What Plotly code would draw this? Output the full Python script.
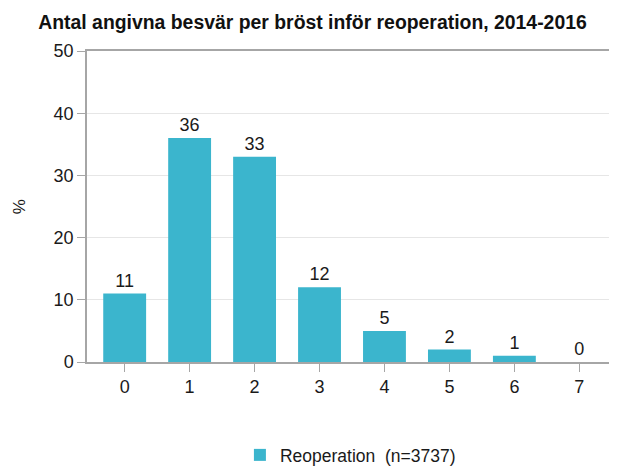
import plotly.graph_objects as go

# Antal besvär per bröst (kategorier) och andel i procent
antal_besvar = ['0', '1', '2', '3', '4', '5', '6', '7']
andel_procent = [11, 36, 33, 12, 5, 2, 1, 0]
serie_namn = 'Reoperation  (n=3737)'

fig = go.Figure()
fig.add_trace(go.Bar(
    x=antal_besvar,
    y=andel_procent,
    name=serie_namn,
    text=andel_procent,
    textposition='outside',
    cliponaxis=False,
    textfont=dict(size=18, color='#1a1a1a'),
    marker=dict(color='#3bb5cd', line=dict(width=0)),
    width=0.66,
    showlegend=True,
))

fig.update_layout(
    width=609, height=458,
    margin=dict(l=79, r=0, t=43, b=104),
    paper_bgcolor='white', plot_bgcolor='white',
    font=dict(family='Liberation Sans, Arial, sans-serif', size=18, color='#1a1a1a'),
    title=dict(text='<b>Antal angivna besvär per bröst inför reoperation, 2014-2016</b>',
               x=0.5, xanchor='center', y=0.969, yanchor='middle',
               font=dict(size=19.4, color='#111')),
    legend=dict(orientation='h', x=0.497, xanchor='center',
                yref='container', y=0.024, yanchor='middle', itemwidth=30,
                font=dict(size=17.5, color='#1a1a1a')),
    annotations=[dict(text='%', xref='paper', yref='paper', x=-0.127, y=0.5,
                      xanchor='center', yanchor='middle',
                      textangle=-90, showarrow=False, font=dict(size=17))],
)

fig.update_xaxes(
    type='category', range=[-0.58, 7.58],
    showline=True, linecolor='#a6a6a6', linewidth=1.5, mirror=True,
    ticks='outside', ticklen=8, tickcolor='#a6a6a6', showgrid=False,
    automargin=False,
)
fig.update_yaxes(
    range=[0, 50], dtick=10,
    showline=True, linecolor='#a6a6a6', linewidth=1.5,
    ticks='outside', ticklen=8, tickcolor='#a6a6a6',
    showgrid=True, gridcolor='#e6e6e6', zeroline=False,
    automargin=False,
)

fig.write_html('out.html')
